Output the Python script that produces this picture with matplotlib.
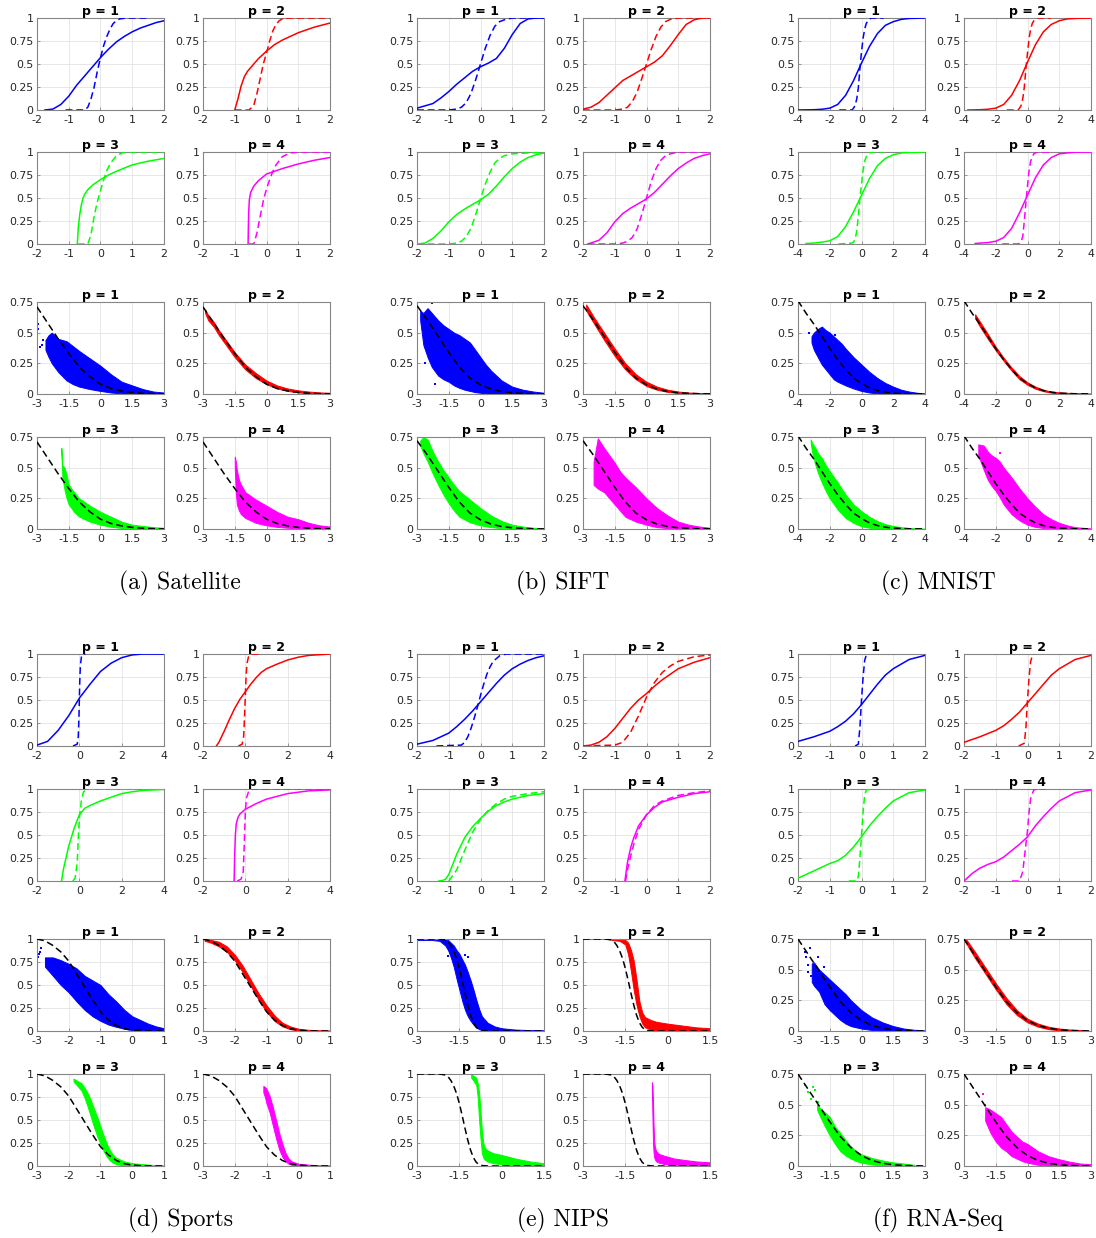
import matplotlib
matplotlib.use("Agg")
import matplotlib.pyplot as plt

plt.rcParams["axes.unicode_minus"] = False
plt.rcParams["font.family"] = ["DejaVu Sans"]

# ===================== Satellite =====================
sat_solid_x = [
    [-1.75, -1.5, -1.25, -1, -0.75, -0.5, -0.25, 0, 0.25, 0.5, 0.75, 1, 1.25, 1.5, 1.75, 2],
    [-1.0, -0.95, -0.9, -0.8, -0.7, -0.6, -0.5, -0.25, 0, 0.25, 0.5, 0.75, 1, 1.5, 2],
    [-0.73, -0.7, -0.65, -0.6, -0.55, -0.5, -0.4, -0.25, 0, 0.25, 0.5, 1, 1.5, 2],
    [-0.58, -0.57, -0.56, -0.54, -0.5, -0.4, -0.25, 0, 0.25, 0.5, 1, 1.5, 2],
]
sat_solid_y = [
    [0, 0.01, 0.06, 0.15, 0.27, 0.37, 0.47, 0.57, 0.66, 0.74, 0.8, 0.85, 0.89, 0.92, 0.95, 0.97],
    [0, 0.06, 0.12, 0.26, 0.36, 0.42, 0.46, 0.56, 0.64, 0.71, 0.76, 0.8, 0.84, 0.9, 0.945],
    [0, 0.18, 0.33, 0.43, 0.5, 0.54, 0.59, 0.64, 0.7, 0.75, 0.79, 0.86, 0.9, 0.93],
    [0, 0.2, 0.35, 0.48, 0.56, 0.63, 0.69, 0.76, 0.79, 0.82, 0.87, 0.91, 0.94],
]
sat_dash_x = [
    [-1.1, -0.5, -0.4, -0.3, -0.2, -0.1, 0, 0.1, 0.2, 0.3, 0.4, 0.5, 0.6, 0.8, 1.5],
    [-1.0, -0.55, -0.4, -0.3, -0.2, -0.1, 0, 0.1, 0.2, 0.3, 0.4, 0.5, 0.7, 2],
    [-0.72, -0.4, -0.3, -0.2, -0.1, 0, 0.1, 0.2, 0.3, 0.5, 0.75, 2],
    [-0.55, -0.4, -0.3, -0.2, -0.1, 0, 0.1, 0.2, 0.3, 0.5, 0.75, 1, 2],
]
sat_dash_y = [
    [0, 0, 0.03, 0.12, 0.25, 0.42, 0.57, 0.7, 0.8, 0.88, 0.94, 0.97, 0.99, 1, 1],
    [0, 0, 0.05, 0.18, 0.34, 0.5, 0.62, 0.75, 0.86, 0.93, 0.97, 0.99, 1, 1],
    [0, 0, 0.1, 0.3, 0.46, 0.58, 0.7, 0.8, 0.87, 0.96, 1, 1],
    [0, 0, 0.12, 0.3, 0.47, 0.6, 0.7, 0.79, 0.86, 0.95, 0.99, 1, 1],
]
sat_ref_x = [-3, -2.5, -2, -1.5, -1, -0.5, 0, 0.5, 1, 1.5, 2, 2.5, 3]
sat_ref_y = [0.71, 0.58, 0.45, 0.33, 0.22, 0.14, 0.08, 0.045, 0.025, 0.013, 0.006, 0.003, 0.001]
sat_band_x = [
    [-2.6, -2.45, -2.3, -2, -1.6, -1.3, -1, -0.5, 0, 0.5, 1, 1.5, 2, 2.5, 3],
    [-2.9, -2.75, -2.5, -2.25, -2, -1.75, -1.5, -1.25, -1, -0.5, 0, 0.5, 1, 1.5, 2, 2.5, 3],
    [-1.85, -1.8, -1.7, -1.6, -1.5, -1.25, -1, -0.5, 0, 0.5, 1, 1.5, 2, 2.5, 3],
    [-1.5, -1.45, -1.4, -1.3, -1.2, -1, -0.5, 0, 0.5, 1, 1.5, 2, 2.5, 3],
]
sat_band_lo = [
    [0.36, 0.3, 0.25, 0.18, 0.11, 0.08, 0.06, 0.04, 0.025, 0.012, 0.005, 0, 0, 0, 0],
    [0.66, 0.6, 0.55, 0.48, 0.42, 0.36, 0.3, 0.25, 0.2, 0.13, 0.08, 0.045, 0.025, 0.013, 0.006, 0.003, 0.001],
    [0.62, 0.42, 0.32, 0.25, 0.2, 0.14, 0.1, 0.06, 0.035, 0.018, 0.008, 0.003, 0, 0, 0],
    [0.5, 0.3, 0.2, 0.15, 0.12, 0.09, 0.05, 0.03, 0.017, 0.01, 0.005, 0.002, 0, 0],
]
sat_band_hi = [
    [0.44, 0.48, 0.5, 0.45, 0.43, 0.39, 0.35, 0.29, 0.23, 0.16, 0.1, 0.07, 0.04, 0.02, 0.012],
    [0.69, 0.64, 0.59, 0.52, 0.46, 0.4, 0.34, 0.29, 0.24, 0.17, 0.11, 0.07, 0.045, 0.03, 0.02, 0.013, 0.01],
    [0.66, 0.52, 0.5, 0.44, 0.36, 0.3, 0.25, 0.19, 0.14, 0.1, 0.06, 0.035, 0.025, 0.015, 0.01],
    [0.59, 0.55, 0.48, 0.4, 0.36, 0.3, 0.24, 0.19, 0.14, 0.1, 0.08, 0.05, 0.03, 0.02],
]
# isolated points outside the dense clouds: (panel index, x, y)
sat_out_p = [0, 0, 0, 0, 0]
sat_out_x = [-2.95, -2.93, -2.85, -2.7, -2.75]
sat_out_y = [0.57, 0.53, 0.38, 0.44, 0.4]

# ===================== SIFT =====================
sift_solid_x = [
    [-2, -1.5, -1.25, -1, -0.75, -0.5, -0.25, 0, 0.25, 0.5, 0.75, 1, 1.25, 1.5, 1.75, 2],
    [-2, -1.75, -1.5, -1.25, -1, -0.75, -0.5, -0.25, 0, 0.25, 0.5, 0.75, 1, 1.25, 1.5, 1.75, 2],
    [-2, -1.75, -1.5, -1.25, -1, -0.75, -0.5, -0.25, 0, 0.25, 0.5, 0.75, 1, 1.25, 1.5, 1.75, 2],
    [-1.85, -1.5, -1.25, -1, -0.75, -0.5, -0.25, 0, 0.25, 0.5, 0.75, 1, 1.25, 1.5, 1.75, 2],
]
sift_solid_y = [
    [0.02, 0.07, 0.13, 0.2, 0.28, 0.35, 0.42, 0.47, 0.51, 0.56, 0.67, 0.82, 0.94, 0.99, 1, 1],
    [0.01, 0.03, 0.08, 0.16, 0.24, 0.32, 0.37, 0.42, 0.47, 0.52, 0.59, 0.7, 0.82, 0.93, 0.98, 1, 1],
    [0, 0.01, 0.06, 0.14, 0.24, 0.32, 0.38, 0.43, 0.48, 0.54, 0.63, 0.73, 0.82, 0.89, 0.94, 0.97, 0.99],
    [0, 0.04, 0.12, 0.24, 0.33, 0.39, 0.44, 0.49, 0.56, 0.65, 0.74, 0.82, 0.88, 0.93, 0.96, 0.98],
]
sift_dash_x = [
    [-2, -1, -0.75, -0.6, -0.45, -0.3, -0.15, 0, 0.15, 0.3, 0.45, 0.6, 0.75, 1, 2],
    [-2, -1, -0.75, -0.6, -0.45, -0.3, -0.15, 0, 0.15, 0.3, 0.45, 0.6, 0.75, 1, 2],
    [-2, -1, -0.75, -0.6, -0.45, -0.3, -0.15, 0, 0.15, 0.3, 0.45, 0.6, 0.75, 1, 2],
    [-1.85, -1, -0.75, -0.6, -0.45, -0.3, -0.15, 0, 0.15, 0.3, 0.45, 0.6, 0.75, 1, 2],
]
sift_dash_y = [
    [0, 0, 0.01, 0.03, 0.08, 0.18, 0.33, 0.5, 0.67, 0.81, 0.91, 0.96, 0.98, 1, 1],
    [0, 0, 0.01, 0.03, 0.09, 0.19, 0.34, 0.5, 0.66, 0.8, 0.9, 0.96, 0.985, 1, 1],
    [0, 0, 0.01, 0.03, 0.08, 0.17, 0.32, 0.49, 0.65, 0.78, 0.88, 0.93, 0.96, 0.98, 1],
    [0, 0, 0.01, 0.03, 0.07, 0.16, 0.32, 0.5, 0.68, 0.82, 0.91, 0.96, 0.98, 1, 1],
]
sift_ref_x = [-3, -2.5, -2, -1.5, -1, -0.5, 0, 0.5, 1, 1.5, 2, 2.5, 3]
sift_ref_y = [0.72, 0.6, 0.47, 0.34, 0.22, 0.13, 0.075, 0.04, 0.02, 0.01, 0.005, 0.002, 0.001]
sift_band_x = [
    [-2.85, -2.7, -2.5, -2.3, -2, -1.75, -1.5, -1.25, -1, -0.75, -0.5, -0.25, 0, 0.25, 0.5, 0.75, 1, 1.5, 2, 2.5, 3],
    [-2.85, -2.5, -2, -1.5, -1, -0.5, 0, 0.5, 1, 1.5, 2, 2.5, 3],
    [-2.85, -2.7, -2.5, -2.25, -2, -1.75, -1.5, -1.25, -1, -0.5, 0, 0.5, 1, 1.5, 2, 2.5, 3],
    [-2.5, -2.3, -2, -1.75, -1.5, -1.25, -1, -0.5, 0, 0.5, 1, 1.5, 2, 2.5, 3],
]
sift_band_lo = [
    [0.6, 0.4, 0.3, 0.22, 0.15, 0.12, 0.1, 0.07, 0.05, 0.035, 0.025, 0.015, 0.01, 0.005, 0.002, 0, 0, 0, 0, 0, 0],
    [0.68, 0.58, 0.44, 0.31, 0.2, 0.12, 0.065, 0.035, 0.017, 0.008, 0.003, 0.001, 0],
    [0.68, 0.62, 0.55, 0.45, 0.36, 0.28, 0.21, 0.15, 0.1, 0.055, 0.03, 0.015, 0.007, 0.002, 0, 0, 0],
    [0.36, 0.33, 0.3, 0.25, 0.2, 0.15, 0.1, 0.06, 0.035, 0.015, 0.007, 0.002, 0, 0, 0],
]
sift_band_hi = [
    [0.68, 0.66, 0.7, 0.66, 0.6, 0.56, 0.53, 0.5, 0.48, 0.45, 0.42, 0.36, 0.3, 0.24, 0.19, 0.15, 0.11, 0.06, 0.035, 0.02, 0.01],
    [0.73, 0.63, 0.5, 0.37, 0.25, 0.16, 0.1, 0.06, 0.035, 0.02, 0.012, 0.008, 0.006],
    [0.72, 0.75, 0.73, 0.63, 0.55, 0.48, 0.42, 0.36, 0.31, 0.24, 0.17, 0.11, 0.065, 0.035, 0.02, 0.01, 0.005],
    [0.55, 0.74, 0.66, 0.6, 0.54, 0.47, 0.42, 0.34, 0.25, 0.17, 0.11, 0.06, 0.035, 0.02, 0.01],
]
sift_out_p = [0, 0, 0, 0]
sift_out_x = [-2.3, -2.15, -2.05, -2.6]
sift_out_y = [0.74, 0.08, 0.22, 0.25]

# ===================== MNIST =====================
mnist_solid_x = [
    [-4, -3, -2.5, -2, -1.5, -1, -0.5, 0, 0.5, 1, 1.5, 2, 2.5, 3, 4],
    [-3.75, -3, -2.5, -2, -1.5, -1, -0.5, 0, 0.5, 1, 1.5, 2, 2.5, 3, 4],
    [-3.5, -3, -2.5, -2, -1.5, -1, -0.5, 0, 0.5, 1, 1.5, 2, 2.5, 3, 4],
    [-3.3, -3, -2.5, -2, -1.5, -1, -0.5, 0, 0.5, 1, 1.5, 2, 2.5, 3, 4],
]
mnist_solid_y = [
    [0, 0.003, 0.008, 0.02, 0.06, 0.16, 0.32, 0.51, 0.69, 0.83, 0.92, 0.96, 0.985, 0.995, 1],
    [0, 0.003, 0.008, 0.02, 0.06, 0.16, 0.32, 0.52, 0.71, 0.85, 0.93, 0.97, 0.99, 0.996, 1],
    [0.005, 0.01, 0.02, 0.035, 0.08, 0.19, 0.35, 0.53, 0.71, 0.85, 0.93, 0.97, 0.99, 0.996, 1],
    [0.005, 0.01, 0.015, 0.03, 0.07, 0.17, 0.34, 0.53, 0.72, 0.86, 0.94, 0.98, 0.99, 0.998, 1],
]
mnist_dash_x = [
    [-1.4, -0.6, -0.5, -0.4, -0.3, -0.2, -0.1, 0, 0.1, 0.2, 0.3, 0.4, 0.6, 1.4],
    [-1.3, -0.6, -0.5, -0.4, -0.3, -0.2, -0.1, 0, 0.1, 0.2, 0.3, 0.4, 0.6, 1.5],
    [-1.45, -0.6, -0.5, -0.4, -0.3, -0.2, -0.1, 0, 0.1, 0.2, 0.3, 0.4, 0.6, 1.4],
    [-1.6, -0.6, -0.5, -0.4, -0.3, -0.2, -0.1, 0, 0.1, 0.2, 0.3, 0.4, 0.6, 1.5],
]
mnist_dash_y = [
    [0, 0, 0.02, 0.05, 0.12, 0.24, 0.45, 0.63, 0.78, 0.88, 0.94, 0.97, 1, 1],
    [0, 0, 0.02, 0.05, 0.12, 0.25, 0.45, 0.62, 0.78, 0.88, 0.94, 0.97, 1, 1],
    [0, 0.01, 0.02, 0.05, 0.14, 0.3, 0.5, 0.65, 0.8, 0.9, 0.95, 0.98, 1, 1],
    [0, 0, 0.01, 0.03, 0.08, 0.25, 0.45, 0.63, 0.8, 0.9, 0.95, 0.98, 1, 1],
]
mnist_ref_x = [-4, -3.5, -3, -2.5, -2, -1.5, -1, -0.5, 0, 0.5, 1, 1.5, 2, 3, 4]
mnist_ref_y = [0.76, 0.66, 0.57, 0.47, 0.37, 0.28, 0.2, 0.13, 0.085, 0.05, 0.028, 0.015, 0.007, 0.002, 0.0005]
mnist_band_x = [
    [-3.15, -3, -2.75, -2.5, -2.25, -2, -1.75, -1.5, -1.25, -1, -0.5, 0, 0.5, 1, 1.5, 2, 2.5, 3, 3.5, 4],
    [-3.3, -3, -2.5, -2, -1.5, -1, -0.5, 0, 0.5, 1, 1.5, 2, 3, 4],
    [-3.2, -3.1, -2.9, -2.75, -2.5, -2.25, -2, -1.5, -1, -0.5, 0, 0.5, 1, 1.5, 2, 2.5, 3, 4],
    [-3.1, -2.75, -2.5, -2.25, -2, -1.75, -1.5, -1, -0.5, 0, 0.5, 1, 1.5, 2, 2.5, 3, 4],
]
mnist_band_lo = [
    [0.42, 0.36, 0.3, 0.24, 0.2, 0.16, 0.12, 0.1, 0.085, 0.07, 0.045, 0.025, 0.012, 0.005, 0, 0, 0, 0, 0, 0],
    [0.62, 0.55, 0.45, 0.355, 0.27, 0.19, 0.12, 0.075, 0.043, 0.023, 0.011, 0.005, 0.001, 0],
    [0.7, 0.62, 0.52, 0.46, 0.38, 0.31, 0.25, 0.16, 0.09, 0.05, 0.022, 0.01, 0.003, 0, 0, 0, 0, 0],
    [0.6, 0.48, 0.4, 0.35, 0.31, 0.26, 0.2, 0.12, 0.07, 0.035, 0.017, 0.008, 0.003, 0, 0, 0, 0],
]
mnist_band_hi = [
    [0.47, 0.5, 0.53, 0.55, 0.52, 0.5, 0.47, 0.44, 0.41, 0.37, 0.3, 0.24, 0.18, 0.13, 0.09, 0.06, 0.035, 0.02, 0.01, 0.005],
    [0.65, 0.59, 0.49, 0.385, 0.295, 0.215, 0.145, 0.095, 0.06, 0.035, 0.02, 0.013, 0.007, 0.004],
    [0.73, 0.7, 0.66, 0.62, 0.58, 0.52, 0.47, 0.38, 0.28, 0.2, 0.145, 0.1, 0.065, 0.04, 0.025, 0.015, 0.008, 0.003],
    [0.69, 0.68, 0.63, 0.6, 0.58, 0.55, 0.5, 0.42, 0.33, 0.25, 0.18, 0.12, 0.08, 0.05, 0.03, 0.015, 0.005],
]
mnist_out_p = [0, 0, 3]
mnist_out_x = [-3.3, -1.7, -1.72]
mnist_out_y = [0.5, 0.48, 0.62]

# ===================== Sports =====================
sports_solid_x = [
    [-2, -1.5, -1, -0.5, 0, 0.5, 1, 1.5, 2, 2.5, 3, 4],
    [-1.37, -1.25, -1, -0.75, -0.5, -0.25, 0, 0.25, 0.5, 0.75, 1, 1.5, 2, 2.5, 3, 4],
    [-0.84, -0.75, -0.5, -0.25, 0, 0.25, 0.5, 1, 1.5, 2, 2.5, 3, 4],
    [-0.53, -0.5, -0.47, -0.43, -0.35, -0.25, 0, 0.5, 1, 1.5, 2, 3, 4],
]
sports_solid_y = [
    [0.01, 0.05, 0.17, 0.33, 0.52, 0.67, 0.81, 0.9, 0.96, 0.99, 1, 1],
    [0, 0.04, 0.16, 0.29, 0.41, 0.51, 0.59, 0.67, 0.74, 0.8, 0.84, 0.89, 0.935, 0.965, 0.985, 1],
    [0, 0.13, 0.38, 0.57, 0.72, 0.79, 0.82, 0.87, 0.91, 0.95, 0.97, 0.985, 0.995],
    [0, 0.3, 0.5, 0.62, 0.69, 0.73, 0.78, 0.84, 0.89, 0.92, 0.95, 0.98, 0.99],
]
sports_dash_x = [
    [-0.3, -0.1, -0.05, -0.02, 0, 0.02, 0.05, 0.1, 0.2, 0.3],
    [-0.33, -0.15, -0.08, -0.04, 0, 0.04, 0.08, 0.15, 0.3, 0.62],
    [-0.31, -0.2, -0.1, -0.05, 0, 0.1, 0.2, 0.4, 4],
    [-0.38, -0.2, -0.1, -0.05, 0, 0.05, 0.15, 0.35, 4],
]
sports_dash_y = [
    [0, 0.02, 0.1, 0.3, 0.5, 0.7, 0.88, 0.97, 1, 1],
    [0, 0.02, 0.1, 0.3, 0.55, 0.78, 0.9, 0.97, 1, 1],
    [0, 0.03, 0.2, 0.45, 0.68, 0.88, 0.97, 1, 1],
    [0, 0.02, 0.1, 0.4, 0.75, 0.9, 0.97, 1, 1],
]
sports_ref_x = [-3, -2.75, -2.5, -2.25, -2, -1.75, -1.5, -1.25, -1, -0.75, -0.5, -0.25, 0, 0.25, 0.5, 1]
sports_ref_y = [1, 0.98, 0.93, 0.86, 0.76, 0.62, 0.48, 0.34, 0.21, 0.12, 0.06, 0.025, 0.01, 0.004, 0.001, 0]
sports_band_x = [
    [-2.75, -2.5, -2.25, -2, -1.75, -1.5, -1.25, -1, -0.75, -0.5, -0.25, 0, 0.25, 0.5, 0.75, 1],
    [-2.95, -2.75, -2.5, -2.25, -2, -1.75, -1.5, -1.25, -1, -0.75, -0.5, -0.25, 0, 0.25, 0.5, 1],
    [-1.85, -1.75, -1.6, -1.5, -1.4, -1.3, -1.2, -1.1, -1, -0.9, -0.8, -0.7, -0.6, -0.5, -0.25, 0, 0.5, 1],
    [-1.1, -1.05, -1, -0.9, -0.8, -0.7, -0.6, -0.5, -0.4, -0.3, -0.2, 0, 0.5, 1],
]
sports_band_lo = [
    [0.7, 0.6, 0.5, 0.42, 0.32, 0.23, 0.16, 0.11, 0.07, 0.045, 0.025, 0.01, 0.005, 0, 0, 0],
    [0.98, 0.96, 0.92, 0.86, 0.77, 0.64, 0.49, 0.34, 0.21, 0.11, 0.05, 0.02, 0.005, 0.002, 0, 0],
    [0.92, 0.88, 0.82, 0.74, 0.64, 0.53, 0.42, 0.32, 0.24, 0.16, 0.1, 0.06, 0.035, 0.02, 0.005, 0, 0, 0],
    [0.8, 0.75, 0.68, 0.58, 0.44, 0.3, 0.18, 0.1, 0.05, 0.025, 0.01, 0, 0, 0],
]
sports_band_hi = [
    [0.8, 0.8, 0.77, 0.73, 0.68, 0.6, 0.55, 0.5, 0.4, 0.32, 0.23, 0.16, 0.12, 0.08, 0.05, 0.03],
    [1.0, 0.99, 0.97, 0.92, 0.83, 0.71, 0.56, 0.41, 0.28, 0.17, 0.09, 0.05, 0.025, 0.015, 0.01, 0.005],
    [0.95, 0.93, 0.9, 0.85, 0.79, 0.71, 0.62, 0.53, 0.43, 0.33, 0.24, 0.17, 0.12, 0.09, 0.05, 0.03, 0.015, 0.005],
    [0.87, 0.86, 0.84, 0.76, 0.64, 0.5, 0.36, 0.24, 0.14, 0.08, 0.05, 0.025, 0.01, 0.005],
]
sports_out_p = [0, 0, 0, 0, 2]
sports_out_x = [-2.97, -2.92, -2.88, -2.95, -2.06]
sports_out_y = [0.8, 0.86, 0.9, 0.84, 1.0]

# ===================== NIPS =====================
nips_solid_x = [
    [-2, -1.75, -1.5, -1.25, -1, -0.75, -0.5, -0.25, 0, 0.25, 0.5, 0.75, 1, 1.25, 1.5, 1.75, 2],
    [-2, -1.75, -1.5, -1.25, -1, -0.75, -0.5, -0.25, 0, 0.25, 0.5, 0.75, 1, 1.5, 2],
    [-1.31, -1.2, -1.1, -1, -0.75, -0.5, -0.25, 0, 0.25, 0.5, 0.75, 1, 1.5, 2],
    [-0.68, -0.6, -0.5, -0.4, -0.25, 0, 0.25, 0.5, 1, 1.5, 2],
]
nips_solid_y = [
    [0.02, 0.04, 0.06, 0.1, 0.14, 0.21, 0.29, 0.38, 0.48, 0.58, 0.68, 0.77, 0.84, 0.89, 0.93, 0.96, 0.98],
    [0, 0.01, 0.04, 0.1, 0.19, 0.3, 0.41, 0.5, 0.57, 0.65, 0.72, 0.78, 0.84, 0.91, 0.96],
    [0, 0.005, 0.02, 0.07, 0.29, 0.47, 0.59, 0.68, 0.76, 0.82, 0.86, 0.89, 0.93, 0.95],
    [0, 0.2, 0.36, 0.47, 0.6, 0.72, 0.8, 0.86, 0.91, 0.95, 0.97],
]
nips_dash_x = [
    [-1.39, -0.6, -0.5, -0.4, -0.3, -0.2, -0.1, 0, 0.1, 0.2, 0.3, 0.4, 0.5, 0.6, 0.8, 2],
    [-2, -1, -0.75, -0.5, -0.25, 0, 0.25, 0.5, 0.75, 1, 1.5, 2],
    [-1.0, -0.75, -0.5, -0.25, 0, 0.25, 0.5, 0.75, 1, 1.5, 2],
    [-0.66, -0.6, -0.5, -0.4, -0.25, 0, 0.25, 0.5, 1, 1.5, 2],
]
nips_dash_y = [
    [0, 0.01, 0.04, 0.1, 0.19, 0.3, 0.42, 0.55, 0.67, 0.78, 0.86, 0.92, 0.95, 0.98, 1, 1],
    [0, 0.01, 0.04, 0.15, 0.33, 0.53, 0.69, 0.8, 0.87, 0.92, 0.97, 0.99],
    [0, 0.12, 0.33, 0.53, 0.67, 0.77, 0.84, 0.89, 0.92, 0.95, 0.97],
    [0, 0.12, 0.27, 0.4, 0.56, 0.72, 0.82, 0.87, 0.93, 0.96, 0.98],
]
nips_ref_x = [-3, -2.2, -2, -1.9, -1.8, -1.7, -1.6, -1.5, -1.4, -1.3, -1.2, -1.1, -1, -0.9, -0.8, -0.7, -0.5, 1.5]
nips_ref_y = [1, 1, 0.99, 0.97, 0.93, 0.87, 0.79, 0.68, 0.55, 0.41, 0.28, 0.17, 0.09, 0.04, 0.015, 0.005, 0, 0]
nips_band_x = [
    [-3, -2.5, -2.2, -2, -1.9, -1.8, -1.7, -1.6, -1.5, -1.4, -1.3, -1.2, -1.1, -1, -0.9, -0.8, -0.7, -0.5, -0.25, 0, 0.5, 1, 1.5],
    [-2, -1.7, -1.5, -1.4, -1.3, -1.2, -1.1, -1.0, -0.9, -0.8, -0.6, -0.4, -0.2, 0, 0.5, 1, 1.5],
    [-1.08, -1, -0.9, -0.85, -0.8, -0.75, -0.7, -0.65, -0.6, -0.5, -0.3, 0, 0.25, 0.5, 1, 1.5],
    [-0.56, -0.54, -0.52, -0.5, -0.48, -0.45, -0.4, -0.3, -0.1, 0.25, 0.5, 1, 1.5],
]
nips_band_lo = [
    [0.99, 0.99, 0.98, 0.93, 0.88, 0.8, 0.7, 0.57, 0.45, 0.33, 0.23, 0.16, 0.11, 0.07, 0.04, 0.02, 0.01, 0, 0, 0, 0, 0, 0],
    [0.99, 0.98, 0.94, 0.83, 0.65, 0.44, 0.28, 0.16, 0.08, 0.04, 0.015, 0.005, 0, 0, 0, 0, 0],
    [0.96, 0.93, 0.88, 0.75, 0.5, 0.3, 0.14, 0.09, 0.07, 0.05, 0.03, 0.02, 0.01, 0.005, 0, 0],
    [0.85, 0.55, 0.25, 0.15, 0.1, 0.07, 0.05, 0.035, 0.02, 0.01, 0.005, 0, 0],
]
nips_band_hi = [
    [1, 1, 1, 1, 0.99, 0.96, 0.93, 0.88, 0.84, 0.78, 0.72, 0.64, 0.55, 0.45, 0.34, 0.24, 0.16, 0.09, 0.05, 0.03, 0.015, 0.01, 0.008],
    [1, 1, 0.99, 0.96, 0.88, 0.76, 0.55, 0.32, 0.2, 0.15, 0.12, 0.1, 0.09, 0.08, 0.06, 0.04, 0.03],
    [1, 0.98, 0.96, 0.9, 0.8, 0.6, 0.38, 0.25, 0.2, 0.17, 0.14, 0.12, 0.1, 0.08, 0.05, 0.03],
    [0.91, 0.88, 0.7, 0.45, 0.28, 0.2, 0.16, 0.13, 0.11, 0.08, 0.07, 0.05, 0.04],
]
nips_out_p = [0, 0, 0]
nips_out_x = [-1.3, -1.9, -1.2]
nips_out_y = [0.83, 0.82, 0.8]

# ===================== RNA-Seq =====================
rna_solid_x = [
    [-2, -1.5, -1, -0.75, -0.5, -0.25, 0, 0.25, 0.5, 0.75, 1, 1.5, 2],
    [-2, -1.5, -1, -0.75, -0.5, -0.25, 0, 0.25, 0.5, 0.75, 1, 1.5, 2],
    [-2, -1.5, -1, -0.75, -0.5, -0.25, 0, 0.25, 0.5, 0.75, 1, 1.5, 2],
    [-2, -1.75, -1.5, -1.25, -1, -0.75, -0.5, -0.25, 0, 0.25, 0.5, 0.75, 1, 1.5, 2],
]
rna_solid_y = [
    [0.05, 0.1, 0.16, 0.21, 0.27, 0.35, 0.45, 0.56, 0.67, 0.77, 0.84, 0.94, 0.985],
    [0.04, 0.1, 0.17, 0.22, 0.29, 0.37, 0.47, 0.57, 0.67, 0.77, 0.84, 0.94, 0.985],
    [0.03, 0.11, 0.19, 0.22, 0.28, 0.37, 0.48, 0.6, 0.7, 0.79, 0.87, 0.96, 0.99],
    [0, 0.08, 0.14, 0.18, 0.21, 0.26, 0.33, 0.4, 0.48, 0.6, 0.7, 0.79, 0.87, 0.96, 0.99],
]
rna_dash_x = [
    [-0.2, -0.1, -0.05, 0, 0.05, 0.1, 0.15, 0.2],
    [-0.28, -0.1, -0.05, 0, 0.05, 0.1, 0.15, 0.2],
    [-0.4, -0.15, -0.1, -0.05, 0, 0.05, 0.1, 0.15, 0.4],
    [-0.49, -0.25, -0.15, -0.05, 0, 0.05, 0.1, 0.2, 0.3, 0.57],
]
rna_dash_y = [
    [0, 0.02, 0.2, 0.5, 0.75, 0.93, 0.99, 1],
    [0, 0.03, 0.2, 0.5, 0.75, 0.92, 0.98, 1],
    [0, 0, 0.05, 0.25, 0.5, 0.75, 0.93, 0.99, 1],
    [0, 0, 0.1, 0.4, 0.55, 0.75, 0.9, 0.99, 1, 1],
]
rna_ref_x = [-3, -2.5, -2, -1.5, -1, -0.5, 0, 0.5, 1, 1.5, 2, 2.5, 3]
rna_ref_y = [0.75, 0.62, 0.49, 0.36, 0.24, 0.15, 0.085, 0.045, 0.022, 0.01, 0.004, 0.0015, 0.0005]
rna_band_x = [
    [-2.35, -2.25, -2, -1.75, -1.5, -1.25, -1, -0.75, -0.5, -0.25, 0, 0.5, 1, 1.5, 2, 2.5, 3],
    [-2.95, -2.5, -2, -1.5, -1, -0.5, 0, 0.5, 1, 1.5, 2, 2.5, 2.8],
    [-2.1, -2, -1.75, -1.5, -1.25, -1, -0.75, -0.5, -0.25, 0, 0.5, 1, 1.5, 2, 2.5],
    [-2.0, -1.75, -1.5, -1.25, -1, -0.75, -0.5, -0.25, 0, 0.5, 1, 1.5, 2, 2.5, 3],
]
rna_band_lo = [
    [0.4, 0.37, 0.32, 0.22, 0.17, 0.13, 0.09, 0.06, 0.04, 0.03, 0.02, 0.008, 0.002, 0, 0, 0, 0],
    [0.73, 0.6, 0.47, 0.34, 0.22, 0.13, 0.07, 0.035, 0.015, 0.006, 0.002, 0, 0],
    [0.46, 0.42, 0.33, 0.25, 0.18, 0.12, 0.085, 0.06, 0.04, 0.027, 0.012, 0.004, 0, 0, 0],
    [0.37, 0.27, 0.2, 0.15, 0.12, 0.08, 0.06, 0.04, 0.027, 0.01, 0.003, 0, 0, 0, 0],
]
rna_band_hi = [
    [0.55, 0.56, 0.5, 0.46, 0.42, 0.38, 0.34, 0.3, 0.25, 0.21, 0.17, 0.11, 0.07, 0.04, 0.02, 0.01, 0.005],
    [0.76, 0.65, 0.52, 0.39, 0.27, 0.17, 0.1, 0.06, 0.035, 0.02, 0.012, 0.008, 0.005],
    [0.5, 0.48, 0.44, 0.4, 0.32, 0.27, 0.21, 0.16, 0.12, 0.095, 0.065, 0.045, 0.03, 0.02, 0.01],
    [0.48, 0.46, 0.43, 0.4, 0.34, 0.28, 0.24, 0.2, 0.18, 0.12, 0.08, 0.055, 0.035, 0.02, 0.015],
]
rna_out_p = [0, 0, 0, 0, 0, 0, 0, 0, 0, 0, 2, 2, 2, 2, 2, 2, 3, 3]
rna_out_x = [-2.65, -2.6, -2.55, -2.45, -2.4, -2.05, -1.95, -1.75, -2.55, -2.2,
             -2.68, -2.55, -2.4, -2.3, -2.2, -2.05, -2.1, -2.0]
rna_out_y = [0.64, 0.6, 0.54, 0.68, 0.45, 0.6, 0.38, 0.52, 0.48, 0.42,
             0.66, 0.6, 0.55, 0.64, 0.62, 0.52, 0.59, 0.5]

# ===================== Panel settings =====================
captions = ["(a) Satellite", "(b) SIFT", "(c) MNIST", "(d) Sports", "(e) NIPS", "(f) RNA-Seq"]
cdf_xticks = [[-2, -1, 0, 1, 2], [-2, -1, 0, 1, 2], [-4, -2, 0, 2, 4],
              [-2, 0, 2, 4], [-2, -1, 0, 1, 2], [-2, -1, 0, 1, 2]]
sc_xticks = [[-3, -1.5, 0, 1.5, 3], [-3, -1.5, 0, 1.5, 3], [-4, -2, 0, 2, 4],
             [-3, -2, -1, 0, 1], [-3, -1.5, 0, 1.5], [-3, -1.5, 0, 1.5, 3]]
sc_ymax = [0.75, 0.75, 0.75, 1, 1, 0.75]
cdf_yticks = [0, 0.25, 0.5, 0.75, 1]

datasets = [
    (sat_solid_x, sat_solid_y, sat_dash_x, sat_dash_y, sat_ref_x, sat_ref_y,
     sat_band_x, sat_band_lo, sat_band_hi, sat_out_p, sat_out_x, sat_out_y),
    (sift_solid_x, sift_solid_y, sift_dash_x, sift_dash_y, sift_ref_x, sift_ref_y,
     sift_band_x, sift_band_lo, sift_band_hi, sift_out_p, sift_out_x, sift_out_y),
    (mnist_solid_x, mnist_solid_y, mnist_dash_x, mnist_dash_y, mnist_ref_x, mnist_ref_y,
     mnist_band_x, mnist_band_lo, mnist_band_hi, mnist_out_p, mnist_out_x, mnist_out_y),
    (sports_solid_x, sports_solid_y, sports_dash_x, sports_dash_y, sports_ref_x, sports_ref_y,
     sports_band_x, sports_band_lo, sports_band_hi, sports_out_p, sports_out_x, sports_out_y),
    (nips_solid_x, nips_solid_y, nips_dash_x, nips_dash_y, nips_ref_x, nips_ref_y,
     nips_band_x, nips_band_lo, nips_band_hi, nips_out_p, nips_out_x, nips_out_y),
    (rna_solid_x, rna_solid_y, rna_dash_x, rna_dash_y, rna_ref_x, rna_ref_y,
     rna_band_x, rna_band_lo, rna_band_hi, rna_out_p, rna_out_x, rna_out_y),
]

colors = ["#0000ff", "#ff0000", "#00ff00", "#ff00ff"]

# ===================== Layout (pixels) =====================
W, H = 1096, 1238
AX_W, AX_H = 127, 92
col_left = [(37, 203), (417, 583), (798, 964)]
block_tops = [  # (cdf row tops, scatter row tops)
    ((18, 152), (302, 437)),
    ((654, 789), (939, 1074)),
]
caption_y = [583, 1220]
caption_x = [180, 563, 938]

fig = plt.figure(figsize=(W / 100, H / 100), dpi=100)
fig.patch.set_facecolor("white")

SPINE = "#858585"
TICKC = "#262626"
GRID = "#e3e3e3"
DASH = (0, (4.5, 2.5))


def fmt(v):
    s = "%g" % v
    return "0" if s == "-0" else s


def make_ax(left, top):
    ax = fig.add_axes([left / W, 1 - (top + AX_H) / H, AX_W / W, AX_H / H])
    for sp in ax.spines.values():
        sp.set_color(SPINE)
        sp.set_linewidth(0.8)
    ax.grid(True, color=GRID, linewidth=0.6)
    ax.set_axisbelow(True)
    ax.tick_params(direction="in", length=2, width=0.6, color=SPINE,
                   labelsize=7.9, labelcolor=TICKC)
    ax.tick_params(axis="x", pad=3.8)
    ax.tick_params(axis="y", pad=2.5)
    return ax


def set_ticks(ax, xt, yt, xmax_lim, ymax):
    ax.set_xlim(xt[0], xmax_lim)
    ax.set_ylim(0, ymax)
    ax.set_xticks(xt)
    ax.set_xticklabels([fmt(v) for v in xt])
    ax.set_yticks(yt)
    ax.set_yticklabels([fmt(v) for v in yt])


def add_title(ax, k):
    ax.set_title("p = %d" % (k + 1), fontsize=9, fontweight="bold", pad=1.2)


for d, data in enumerate(datasets):
    sx, sy, dx, dy, rx, ry, bx, blo, bhi, op, ox, oy = data
    brow, bcol = divmod(d, 3)
    cdf_tops, sc_tops = block_tops[brow]
    lefts = col_left[bcol]
    sc_y = sc_ymax[d]
    sc_yt = [0, 0.25, 0.5, 0.75] + ([1] if sc_y == 1 else [])
    for k in range(4):
        r, c = divmod(k, 2)
        c_col = colors[k]

        # CDF comparison
        ax = make_ax(lefts[c], cdf_tops[r])
        ax.plot(sx[k], sy[k], color=c_col, lw=1.1, zorder=3)
        ax.plot(dx[k], dy[k], color=c_col, lw=1.1, ls=DASH, zorder=3)
        set_ticks(ax, cdf_xticks[d], cdf_yticks, cdf_xticks[d][-1], 1)
        add_title(ax, k)

        # density scatter comparison
        ax = make_ax(lefts[c], sc_tops[r])
        ax.fill_between(bx[k], blo[k], bhi[k], facecolor=c_col, edgecolor=c_col,
                        linewidth=0.7, zorder=2)
        px = [x for p, x in zip(op, ox) if p == k]
        py = [y for p, y in zip(op, oy) if p == k]
        if px:
            ax.scatter(px, py, s=4, marker="s", color=c_col, linewidths=0, zorder=2)
        ax.plot(rx, ry, color="black", lw=1.1, ls=DASH, zorder=3)
        xmax_lim = 1.5 if d == 4 else sc_xticks[d][-1]
        set_ticks(ax, sc_xticks[d], sc_yt, xmax_lim, sc_y)
        add_title(ax, k)

    fig.text(caption_x[bcol] / W, 1 - caption_y[brow] / H, captions[d],
             ha="center", va="center", fontsize=17, family="cmr10")

fig.savefig("out.png", dpi=100, facecolor="white")
